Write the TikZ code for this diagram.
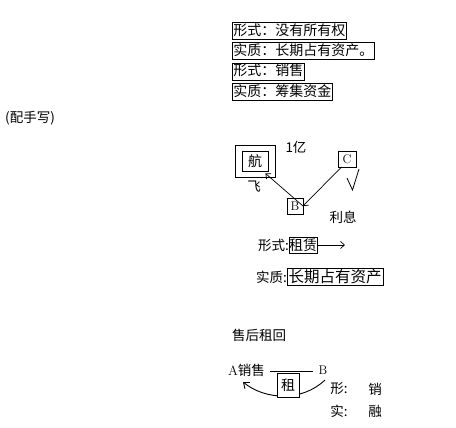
\documentclass[tikz,border=0pt]{standalone}
\usepackage{fontspec}
\newfontfamily\cjk{Noto Sans CJK SC}
\usetikzlibrary{arrows.meta}
\tikzset{
  txt/.style={inner sep=0pt, font=\cjk\fontsize{13.5}{13.5}\selectfont},
  topbox/.style={draw, line width=0.9pt, anchor=west, inner xsep=1pt, inner ysep=0pt,
     minimum height=17pt, text height=11pt, text depth=2pt, font=\cjk\fontsize{14}{14}\selectfont},
  sbox/.style={draw, line width=0.9pt, inner sep=0pt, font=\cjk\fontsize{14}{14}\selectfont},
  lat/.style={inner sep=0pt, font=\rmfamily\fontsize{12.5}{12.5}\selectfont},
  conn/.style={line width=0.8pt},
  arr/.style={line width=0.7pt, -{Straight Barb[length=4pt,width=7pt]}},
}
\begin{document}
\begin{tikzpicture}[x=1pt,y=-1pt]
\useasboundingbox (0,0) rectangle (456,428);
% top boxes
\node[topbox] (t1) at (232,31) {形式：没有所有权};
\node[topbox] (t2) at (232,51) {实质：长期占有资产。};
\node[topbox] (t3) at (232,71.5) {形式：销售};
\node[topbox] (t4) at (232,92) {实质：筹集资金};
% left note
\node[txt, anchor=west] (note) at (5,118) {(配手写)};
% middle diagram
\node[draw, line width=0.9pt, minimum width=40pt, minimum height=32pt, inner sep=0pt] (outer) at (255,161) {};
\node[sbox, minimum width=26pt, minimum height=20pt] (hang) at (255,161) {航};
\node[txt] (yi) at (296,147) {1亿};
\node[txt] (fei) at (254,187) {飞};
\node[sbox, lat, draw, minimum width=18pt, minimum height=16pt] (cc) at (347,159) {C};
\node[sbox, lat, draw, minimum width=16pt, minimum height=16pt] (bb) at (295,206) {B};
\node[txt] (lixi) at (343,217) {利息};
\coordinate (meet) at (303,206);
\coordinate (cfoot) at (341.5,167);
\draw[arr] (meet) -- ([xshift=-3pt,yshift=-2pt]hang.south east);
\draw[arr] (cfoot) -- (meet);
\draw[line width=0.8pt] (347,178) -- (352.5,190) -- (359,169);
% rent
\node[txt, anchor=east] (xs1) at (289,245) {形式:};
\node[sbox, minimum width=28pt, minimum height=16pt] (rent) at (303,245) {租赁};
\coordinate (rentend) at (345,245);
\draw[arr] (rent.east) -- (rentend);
\node[txt, anchor=east] (sz1) at (287,277) {实质:};
\node[sbox, font=\cjk\fontsize{15.5}{15.5}\selectfont, minimum width=96pt, minimum height=17pt] (cq) at (335,276.5) {长期占有资产};
% sale-leaseback
\node[txt] (shzh) at (259,335) {售后租回};
\node[txt] (asale) at (246.5,370) {{\rmfamily A}销售};
\node[lat] (b2) at (323,370) {B};
\draw[conn] ([xshift=5pt,yshift=-1pt]asale.east) -- ([xshift=-5pt,yshift=-1pt]b2.west);
\coordinate (cstart) at (325,380);
\coordinate (cend) at (243,382);
\draw[line width=0.9pt, -{Straight Barb[length=5pt,width=8pt]}] (cstart) .. controls (302,402) and (265,400) .. (cend);
\node[sbox, fill=white, minimum width=22pt, minimum height=24pt] (zu) at (288,385) {租};
\node[txt] (x2) at (339,389) {形:};
\node[txt] (x3) at (375,389) {销};
\node[txt] (s2) at (339,411) {实:};
\node[txt] (s3) at (375,411) {融};
\end{tikzpicture}
\end{document}
